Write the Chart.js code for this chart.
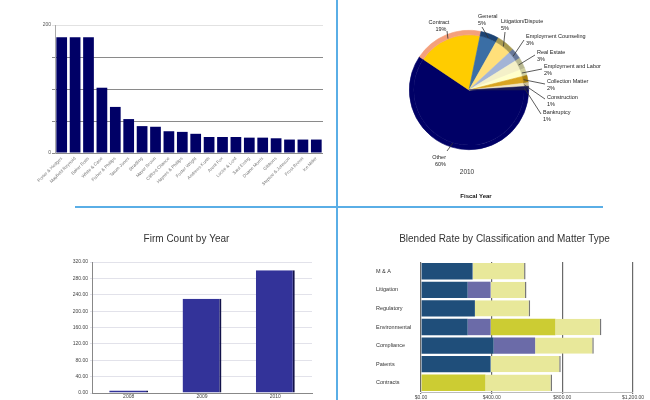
<!DOCTYPE html>
<html>
<head>
<meta charset="utf-8">
<script src="https://cdn.jsdelivr.net/npm/chart.js@4.4.1/dist/chart.umd.min.js"></script>
<style>
html, body { margin: 0; padding: 0; background: #fff; width: 650px; height: 400px; overflow: hidden; }
canvas { position: absolute; }
.sep { position: absolute; background: #5aaee6; }
</style>
</head>
<body>
<div class="sep" style="left:336px;top:0;width:2px;height:400px"></div>
<div class="sep" style="left:75px;top:206px;width:262px;height:2px"></div>
<div class="sep" style="left:337px;top:206px;width:266px;height:2px"></div>

<canvas id="firmChart" width="330" height="200" style="left:0;top:0"></canvas>
<canvas id="pieChart" width="312" height="205" style="left:338px;top:0"></canvas>
<canvas id="countChart" width="274" height="190" style="left:61px;top:210px"></canvas>
<canvas id="rateChart" width="274" height="190" style="left:376px;top:210px"></canvas>

<script>
// matters per firm (top left)
const firms = ['Porter & Hedges', 'Mayfield Reynold', 'Baker Botts', 'White & Case', 'Fisher & Phillips',
    'Tatum Jones', 'Stradling', 'Mayer Brown', 'Clifford Chance', 'Haynes & Phillips', 'Foster Wright',
    'Andrews Kurth', 'Arent Fox', 'Locke & Lord', 'Saul Ewing', 'Duane Morris', 'Gibbons',
    'Steptoe & Johnson', 'Frost Brown', 'Ice Miller'];
const firmMatters = [181, 181, 181, 102, 72, 53, 42, 41, 34, 33, 30, 25, 25, 25, 24, 24, 23, 21, 21, 21];
const firmTicks = [0, 200];

// matter type share, fiscal year 2010 (top right)
const matterTypes = ['Other', 'Contract', 'General', 'Litigation/Dispute', 'Employment Counseling',
    'Real Estate', 'Employment and Labor', 'Collection Matter', 'Construction', 'Bankruptcy'];
const matterShares = [60, 19, 5, 5, 3, 3, 2, 2, 1, 1];
const fiscalYear = '2010';

// firm count by year (bottom left)
const years = ['2008', '2009', '2010'];
const firmCounts = [6, 230, 300];

// blended rate (bottom right)
const rateTypes = ['M & A', 'Litigation', 'Regulatory', 'Environmental', 'Compliance', 'Patents', 'Contracts'];
const partnerRate = [292, 264, 305, 264, 411, 394, 0];
const counselRate = [0, 130, 0, 130, 235, 0, 0];
const associateRate = [0, 0, 0, 367, 0, 0, 365];
const paralegalRate = [300, 203, 313, 260, 332, 397, 377];

const FONT = "'Liberation Sans', Arial, sans-serif";
Chart.defaults.font.family = FONT;
Chart.defaults.animation = false;
Chart.defaults.plugins.legend.display = false;
Chart.defaults.plugins.tooltip.enabled = false;

// ---- top left: bars per firm
new Chart(document.getElementById('firmChart'), {
    type: 'bar',
    data: {
        labels: firms,
        datasets: [{ data: firmMatters, backgroundColor: '#000066', categoryPercentage: 1, barPercentage: 0.8 }]
    },
    options: {
        responsive: false,
        layout: { padding: { top: 25, right: 7, left: 0, bottom: 0 } },
        scales: {
            x: {
                grid: { display: false, tickLength: 2 },
                border: { display: false },
                ticks: { font: { size: 4.5 }, color: '#777', minRotation: 45, maxRotation: 45, autoSkip: false, padding: 1 },
                afterFit: s => { s.height = 47; }
            },
            y: {
                min: 0, max: 200,
                grid: { color: c => c.tick && c.tick.value === 200 ? '#e2e2e2' : '#8a8a8a', tickLength: 3, lineWidth: 1 },
                border: { color: '#aaa' },
                ticks: { stepSize: 50, font: { size: 5 }, color: '#555', padding: 1,
                    callback: v => firmTicks.includes(v) ? v : '' },
                afterFit: s => { s.width = 55; }
            }
        }
    }
});

// ---- top right: pie with outer edge ring
const innerColors = ['#000066', '#ffcc00', '#3a6ea5', '#ffdf7a', '#a3b4d6', '#f4f0c8', '#ffffcc', '#d9a520', '#f0e4c0', '#1a1a55'];
const edgeColors = ['#000066', '#f4a07c', '#1c4373', '#a89a50', '#667799', '#b8b890', '#d0d0a0', '#a8800f', '#c8bc98', '#1a1a55'];

// text spots for the pie labels: [textX, textY, align, lineX, lineY] in page pixels
const pieSpots = [
    [446, 157, 'right', 447, 151],
    [439, 22, 'center', 447, 31],
    [478, 16, 'left', 482, 27],
    [501, 21, 'left', 505, 32],
    [526, 36, 'left', 524, 40],
    [537, 52, 'left', 535, 55],
    [544, 66, 'left', 542, 69],
    [547, 81, 'left', 545, 84],
    [547, 97, 'left', 545, 99],
    [543, 112, 'left', 541, 114]
];
const pieLeft = 338;

const pieLabels = {
    id: 'pieLabels',
    afterDraw(chart) {
        const ctx = chart.ctx;
        const arcs = chart.getDatasetMeta(0).data;
        ctx.save();
        ctx.strokeStyle = '#333';
        ctx.lineWidth = 0.8;
        ctx.fillStyle = '#222';
        ctx.font = '5.5px ' + FONT;
        ctx.textBaseline = 'middle';
        arcs.forEach((arc, i) => {
            const s = pieSpots[i];
            const mid = (arc.startAngle + arc.endAngle) / 2;
            const r = arc.outerRadius * 0.93;
            ctx.beginPath();
            ctx.moveTo(arc.x + Math.cos(mid) * r, arc.y + Math.sin(mid) * r);
            ctx.lineTo(s[3] - pieLeft, s[4]);
            ctx.stroke();
            ctx.textAlign = s[2];
            ctx.fillText(matterTypes[i], s[0] - pieLeft, s[1]);
            ctx.fillText(matterShares[i] + '%', s[0] - pieLeft + (s[2] === 'center' ? 2 : 0), s[1] + 7);
        });
        ctx.textAlign = 'center';
        ctx.fillStyle = '#333';
        ctx.font = '6.5px ' + FONT;
        ctx.fillText(fiscalYear, 467 - pieLeft, 172);
        ctx.font = 'bold 6px ' + FONT;
        ctx.fillStyle = '#111';
        ctx.fillText('Fiscal Year', 476 - pieLeft, 196);
        ctx.restore();
    }
};

new Chart(document.getElementById('pieChart'), {
    type: 'pie',
    data: {
        labels: matterTypes,
        datasets: [
            { data: matterShares, backgroundColor: edgeColors, borderColor: edgeColors, borderWidth: 0.6, weight: 1 },
            { data: matterShares, backgroundColor: innerColors, borderColor: innerColors, borderWidth: 0.6, weight: 12 }
        ]
    },
    options: {
        responsive: false,
        rotation: 90,
        layout: { padding: { left: 71, right: 121, top: 30, bottom: 55 } }
    },
    plugins: [pieLabels]
});

// ---- bottom left: firm count by year
const titleOpts = text => ({
    display: true, text: text, color: '#333',
    font: { size: 10, weight: 'normal' },
    padding: { top: 23, bottom: 17 }
});

new Chart(document.getElementById('countChart'), {
    type: 'bar',
    data: {
        labels: years,
        datasets: [{
            data: firmCounts, backgroundColor: '#333399', borderColor: '#12124a',
            borderWidth: { top: 0, right: 2, bottom: 0, left: 0 }, borderSkipped: false,
            categoryPercentage: 1, barPercentage: 0.53
        }]
    },
    options: {
        responsive: false,
        layout: { padding: { right: 23 } },
        plugins: { title: titleOpts('Firm Count by Year') },
        scales: {
            x: {
                grid: { display: false, tickLength: 0 },
                border: { color: '#888' },
                ticks: { font: { size: 5 }, color: '#444', padding: 1, maxRotation: 0 },
                afterFit: s => { s.height = 7; }
            },
            y: {
                min: 0, max: 320,
                grid: { color: '#e2e2ea', tickLength: 2 },
                border: { color: '#888' },
                ticks: { stepSize: 40, font: { size: 5 }, color: '#444', padding: 2, callback: v => v.toFixed(2) },
                afterFit: s => { s.width = 31; }
            }
        }
    }
});

// ---- bottom right: blended rate, stacked horizontal bars
const rateSet = (label, data, color, edge) => ({
    label: label, data: data, backgroundColor: color,
    borderColor: '#777', borderWidth: edge ? { top: 0, right: 1.5, bottom: 0, left: 0 } : 0, borderSkipped: false,
    categoryPercentage: 1, barPercentage: 0.88
});

new Chart(document.getElementById('rateChart'), {
    type: 'bar',
    data: {
        labels: rateTypes,
        datasets: [
            rateSet('Partner', partnerRate, '#1f4e7a'),
            rateSet('Counsel', counselRate, '#6b6ba8'),
            rateSet('Associate', associateRate, '#cccc33'),
            rateSet('Paralegal', paralegalRate, '#e8e89a', true)
        ]
    },
    options: {
        responsive: false,
        indexAxis: 'y',
        layout: { padding: { right: 17 } },
        plugins: { title: titleOpts('Blended Rate by Classification and Matter Type') },
        scales: {
            x: {
                stacked: true, min: 0, max: 1200,
                grid: { color: '#6a6a6a', lineWidth: 1.2, tickLength: 2 },
                border: { color: '#bbb' },
                ticks: { stepSize: 400, font: { size: 5 }, color: '#444', padding: 1,
                    callback: v => '$' + v.toLocaleString('en-US', { minimumFractionDigits: 2 }) },
                afterFit: s => { s.height = 8; }
            },
            y: {
                stacked: true,
                grid: { display: false },
                border: { display: false },
                ticks: { font: { size: 5.5 }, color: '#333', crossAlign: 'far', padding: 4 },
                afterFit: s => { s.width = 45; }
            }
        }
    }
});
</script>
</body>
</html>
